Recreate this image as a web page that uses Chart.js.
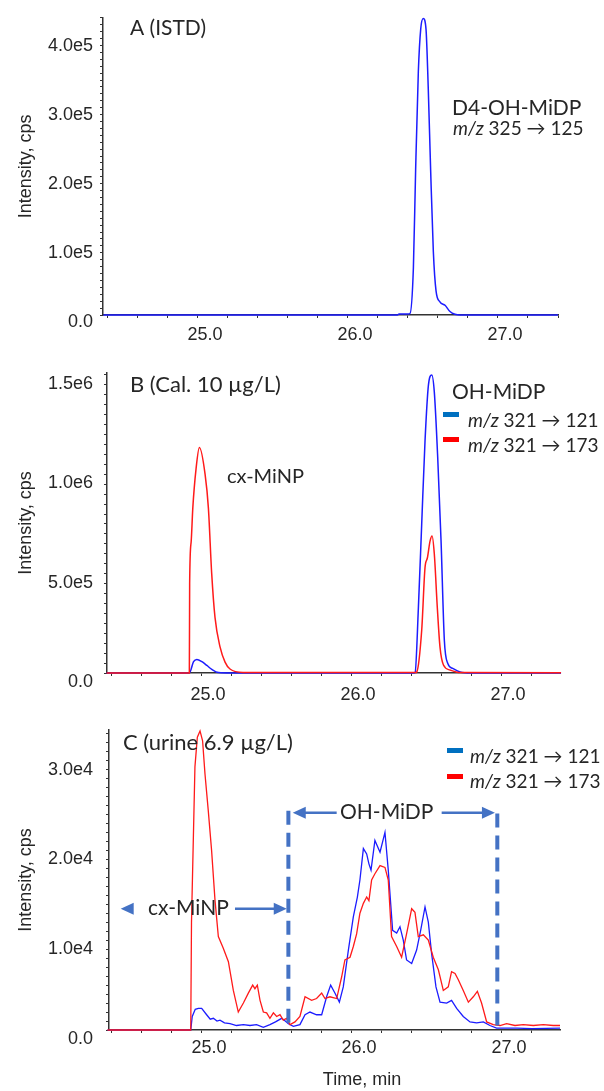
<!DOCTYPE html>
<html>
<head>
<meta charset="utf-8">
<script src="https://cdn.jsdelivr.net/npm/chart.js@4.4.0/dist/chart.umd.min.js"></script>
<style>
  body { margin: 0; background: #fff; width: 604px; height: 1091px; position: relative; overflow: hidden; }
  canvas { position: absolute; left: 0; }
</style>
</head>
<body>
<canvas id="chartA" width="604" height="345" style="top:0px"></canvas>
<canvas id="chartB" width="604" height="360" style="top:345px"></canvas>
<canvas id="chartC" width="604" height="386" style="top:705px"></canvas>
<script>
// ---- Panel A: ISTD, m/z 325 -> 125 ----
const timeA = [24.37, 26.33, 26.34, 26.40, 26.413, 26.436, 26.451, 26.469, 26.485, 26.502, 26.52, 26.535, 26.551, 26.569, 26.587, 26.613, 26.647, 26.68, 26.713, 26.75, 27.4];
const blueA = [0, 0, 1500, 1500, 2000, 68000, 210000, 352000, 414000, 429000, 414000, 329000, 210000, 92000, 35000, 19000, 14000, 5000, 1000, 0, 0];

// ---- Panel B: calibration 10 ug/L ----
const timeBBlue = [24.37, 24.922, 24.95, 24.972, 25.006, 25.039, 25.072, 25.116, 25.2, 26.42, 26.427, 26.449, 26.471, 26.493, 26.516, 26.538, 26.555, 26.578, 26.6, 26.622, 26.645, 26.678, 26.727, 26.8, 27.4];
const blueB = [0, 0, 57000, 68000, 57000, 38000, 18000, 2000, 0, 0, 2000, 330000, 750000, 1165000, 1450000, 1500000, 1415000, 1080000, 665000, 165000, 48000, 23000, 5000, 0, 0];
const timeBRed = [24.37, 24.922, 24.924, 24.934, 24.945, 24.967, 24.989, 25.027, 25.049, 25.071, 25.093, 25.127, 25.16, 25.193, 25.28, 26.43, 26.438, 26.471, 26.493, 26.509, 26.527, 26.54, 26.555, 26.575, 26.593, 26.616, 26.66, 26.727, 27.4];
const redB = [0, 0, 450000, 660000, 830000, 1030000, 1135000, 1000000, 830000, 500000, 280000, 130000, 55000, 20000, 3000, 2000, 5000, 215000, 530000, 580000, 665000, 690000, 600000, 330000, 130000, 40000, 15000, 2000, 1000];

// ---- Panel C: urine 6.9 ug/L ----
const timeCRed = [24.37, 24.925, 24.93, 24.938, 24.953, 24.969, 24.987, 25.004, 25.02, 25.042, 25.064, 25.087, 25.109, 25.142, 25.176, 25.209, 25.242, 25.276, 25.309, 25.338, 25.353, 25.369, 25.387, 25.409, 25.431, 25.453, 25.476, 25.498, 25.52, 25.542, 25.564, 25.587, 25.62, 25.653, 25.687, 25.731, 25.764, 25.798, 25.82, 25.853, 25.898, 25.931, 25.953, 25.987, 26.009, 26.031, 26.053, 26.076, 26.098, 26.113, 26.131, 26.153, 26.187, 26.22, 26.242, 26.264, 26.298, 26.331, 26.364, 26.398, 26.42, 26.442, 26.476, 26.509, 26.542, 26.576, 26.609, 26.642, 26.664, 26.687, 26.709, 26.742, 26.776, 26.809, 26.836, 26.864, 26.898, 26.942, 26.987, 27.031, 27.087, 27.142, 27.209, 27.276, 27.342, 27.387];
const redC = [0, 0, 12000, 18100, 29300, 32600, 33300, 32200, 28500, 24400, 20000, 14400, 10400, 9100, 7600, 4400, 2000, 3000, 4100, 5000, 4600, 5000, 3300, 2000, 1900, 1300, 1900, 1500, 1700, 1100, 1300, 600, 900, 1500, 3700, 3300, 3500, 4100, 3500, 3700, 3500, 5900, 7800, 8100, 9300, 10700, 13000, 14100, 14800, 14400, 16700, 17400, 18300, 18100, 16700, 10400, 9300, 8100, 10700, 13500, 13100, 10400, 10600, 10000, 8100, 6700, 4400, 4800, 6500, 6300, 5600, 4400, 3100, 3700, 4300, 3000, 900, 600, 500, 700, 500, 600, 500, 600, 500, 500];
const timeCBlue = [24.37, 24.925, 24.935, 24.955, 24.976, 24.998, 25.031, 25.055, 25.076, 25.1, 25.12, 25.15, 25.187, 25.23, 25.276, 25.32, 25.364, 25.409, 25.453, 25.49, 25.531, 25.555, 25.576, 25.609, 25.653, 25.687, 25.72, 25.764, 25.798, 25.831, 25.858, 25.887, 25.916, 25.942, 25.976, 26.009, 26.036, 26.053, 26.076, 26.098, 26.113, 26.127, 26.153, 26.187, 26.22, 26.242, 26.271, 26.298, 26.32, 26.342, 26.364, 26.398, 26.431, 26.458, 26.487, 26.509, 26.531, 26.56, 26.587, 26.631, 26.664, 26.698, 26.742, 26.787, 26.831, 26.876, 26.92, 26.964, 27.1, 27.2, 27.387];
const blueC = [0, 0, 1500, 2300, 2400, 2400, 1700, 1200, 1300, 1000, 1100, 800, 700, 500, 600, 500, 600, 300, 600, 900, 1300, 1000, 700, 400, 600, 1700, 2000, 1700, 1700, 3700, 5000, 4100, 3100, 4800, 8900, 12600, 14800, 16700, 20200, 19600, 18500, 17800, 21100, 19800, 22000, 17800, 11100, 10800, 11500, 10000, 7800, 7400, 8900, 11100, 13700, 12000, 8500, 4800, 3100, 3000, 3300, 2400, 1500, 900, 800, 900, 500, 200, 200, 150, 200];

// ---- Tick labels ----
const xMajorTicks = [25, 26, 27];
const xTickLabels = ['25.0', '26.0', '27.0'];
const yMajorA = [0, 1e5, 2e5, 3e5, 4e5];
const yLabelsA = ['0.0', '1.0e5', '2.0e5', '3.0e5', '4.0e5'];
const yMajorB = [0, 5e5, 1e6, 1.5e6];
const yLabelsB = ['0.0', '5.0e5', '1.0e6', '1.5e6'];
const yMajorC = [0, 1e4, 2e4, 3e4];
const yLabelsC = ['0.0', '1.0e4', '2.0e4', '3.0e4'];

// ---- Bracket annotations in panel C (time, intensity) ----
const cxArrow = { tipLeft: 24.458, lineFrom: 25.22, tipRight: 25.565, level: 13500 };
const ohArrow = { tipLeft: 25.605, lineTo: 25.898, lineFrom: 26.598, tipRight: 26.953, level: 24200 };
const windowLines = [{ t: 25.576, top: 24400 }, { t: 26.969, top: 24100 }];

const AXIS_FONT = '"Liberation Sans", Arial, sans-serif';
const NOTE_FONT = 'Lato, "Open Sans", sans-serif';
const BLUE = '#1c1cff';
const RED = '#ff1a1a';
const INK = '#262626';

function toPoints(times, values) {
    return times.map((t, i) => ({ x: t, y: values[i] }));
}

function labelFor(value, majors, labels, tol) {
    for (let i = 0; i < majors.length; i++) {
        if (Math.abs(value - majors[i]) < tol) return labels[i];
    }
    return '';
}

// notes: text drawn on canvas, y = vertical centre in canvas pixels
function drawNotes(ctx, notes) {
    ctx.save();
    ctx.fillStyle = INK;
    ctx.textBaseline = 'middle';
    ctx.textAlign = 'left';
    notes.forEach(n => {
        let x = n.x;
        n.parts.forEach(p => {
            ctx.font = (p.italic ? 'italic ' : '') + n.size + 'px ' + NOTE_FONT;
            ctx.fillText(p.s, x, n.y);
            x += ctx.measureText(p.s).width;
        });
    });
    ctx.restore();
}

function drawSwatches(ctx, swatches) {
    swatches.forEach(s => {
        ctx.fillStyle = s.color;
        ctx.fillRect(s.x, s.y, 16, 5);
    });
}

function arrowHead(ctx, x, y, dir) {
    ctx.beginPath();
    ctx.moveTo(x, y);
    ctx.lineTo(x - dir * 13, y - 6);
    ctx.lineTo(x - dir * 13, y + 6);
    ctx.closePath();
    ctx.fill();
}

function buildPanel(id, p) {
    const xTicks = [];
    for (let i = 0; i <= 20; i++) {
        const v = 24.4 + i * 0.2;
        if (v <= p.xMax) xTicks.push(+v.toFixed(2));
    }
    const yTicks = [];
    for (let i = 0; i * p.yStep <= p.yMax + 1e-6; i++) yTicks.push(i * p.yStep);

    const notesPlugin = {
        id: 'notes' + id,
        afterDatasetsDraw(chart) {
            const ctx = chart.ctx;
            if (p.extra) p.extra(chart);
            drawSwatches(ctx, p.swatches || []);
            drawNotes(ctx, p.notes);
        }
    };

    return new Chart(document.getElementById(id), {
        type: 'line',
        data: { datasets: p.datasets },
        options: {
            responsive: false,
            animation: false,
            events: [],
            layout: { padding: { left: 0, right: 604 - p.right, top: p.top, bottom: 0 } },
            plugins: { legend: { display: false }, tooltip: { enabled: false } },
            elements: { point: { radius: 0 }, line: { borderWidth: 1.5 } },
            scales: {
                x: {
                    type: 'linear',
                    min: p.xMin,
                    max: p.xMax,
                    afterFit: s => { s.height = p.canvasH - p.bottom; },
                    afterBuildTicks: s => { s.ticks = xTicks.map(v => ({ value: v })); },
                    ticks: {
                        autoSkip: false,
                        maxRotation: 0,
                        padding: p.xPad,
                        labelOffset: 7,
                        color: INK,
                        font: { family: AXIS_FONT, size: 18 },
                        callback: v => labelFor(v, xMajorTicks, xTickLabels, 0.01)
                    },
                    grid: { drawOnChartArea: false, tickLength: 3, color: '#333' },
                    border: { color: '#333', width: 1.5 }
                },
                y: {
                    min: 0,
                    max: p.yMax,
                    afterFit: s => { s.width = p.left; },
                    afterBuildTicks: s => { s.ticks = yTicks.map(v => ({ value: v })); },
                    ticks: {
                        autoSkip: false,
                        padding: p.yPad,
                        labelOffset: p.yLabelOffset,
                        color: INK,
                        font: { family: AXIS_FONT, size: 18 },
                        callback: v => labelFor(v, p.yMajor, p.yLabels, p.yStep / 10)
                    },
                    grid: { drawOnChartArea: false, tickLength: 3, color: '#333' },
                    border: { color: '#333', width: 1.5 },
                    title: {
                        display: true,
                        text: 'Intensity, cps',
                        color: INK,
                        font: { family: AXIS_FONT, size: 18 },
                        padding: { top: 15, bottom: 0 }
                    }
                }
            }
        },
        plugins: [notesPlugin]
    });
}

function trace(times, values, color, order) {
    return {
        data: toPoints(times, values),
        borderColor: color,
        borderWidth: 1.5,
        pointRadius: 0,
        fill: false,
        clip: false,
        order: order,
        cubicInterpolationMode: 'monotone'
    };
}

function rawTrace(times, values, color, order) {
    return {
        data: toPoints(times, values),
        borderColor: color,
        borderWidth: 1.3,
        pointRadius: 0,
        fill: false,
        clip: false,
        order: order,
        tension: 0
    };
}

buildPanel('chartA', {
    canvasH: 345, top: 12, bottom: 315, left: 103, right: 558,
    xMin: 24.367, xMax: 27.4, xPad: 6, yPad: 7, yLabelOffset: 7,
    yMax: 430000, yStep: 10000, yMajor: yMajorA, yLabels: yLabelsA,
    datasets: [trace(timeA, blueA, BLUE, 0)],
    notes: [
        { x: 130, y: 28, size: 21, parts: [{ s: 'A (ISTD)' }] },
        { x: 452, y: 108, size: 21, parts: [{ s: 'D4-OH-MiDP' }] },
        { x: 453, y: 129, size: 19, parts: [{ s: 'm/z', italic: true }, { s: ' 325 \u2192 125' }] }
    ]
});

buildPanel('chartB', {
    canvasH: 360, top: 28, bottom: 328, left: 107, right: 560,
    xMin: 24.373, xMax: 27.393, xPad: 8, yPad: 11, yLabelOffset: 9,
    yMax: 1510000, yStep: 50000, yMajor: yMajorB, yLabels: yLabelsB,
    datasets: [trace(timeBBlue, blueB, BLUE, 1), trace(timeBRed, redB, RED, 0)],
    swatches: [{ x: 443, y: 412 - 345, color: '#0070C0' }, { x: 443, y: 437 - 345, color: '#FF0000' }],
    notes: [
        { x: 130, y: 385 - 345, size: 22, parts: [{ s: 'B (Cal. 10 \u00b5g/L)' }] },
        { x: 227, y: 477 - 345, size: 20, parts: [{ s: 'cx-MiNP' }] },
        { x: 452, y: 392 - 345, size: 21, parts: [{ s: 'OH-MiDP' }] },
        { x: 468, y: 421 - 345, size: 19, parts: [{ s: 'm/z', italic: true }, { s: ' 321 \u2192 121' }] },
        { x: 468, y: 446 - 345, size: 19, parts: [{ s: 'm/z', italic: true }, { s: ' 321 \u2192 173' }] }
    ]
});

buildPanel('chartC', {
    canvasH: 386, top: 25, bottom: 325, left: 109, right: 560,
    xMin: 24.38, xMax: 27.387, xPad: 4, yPad: 13, yLabelOffset: 9,
    yMax: 33400, yStep: 1000, yMajor: yMajorC, yLabels: yLabelsC,
    datasets: [rawTrace(timeCBlue, blueC, BLUE, 1), rawTrace(timeCRed, redC, RED, 0)],
    swatches: [{ x: 447, y: 748 - 705, color: '#0070C0' }, { x: 447, y: 774 - 705, color: '#FF0000' }],
    notes: [
        { x: 123, y: 743 - 705, size: 22, parts: [{ s: 'C (urine 6.9 \u00b5g/L)' }] },
        { x: 470, y: 757 - 705, size: 19, parts: [{ s: 'm/z', italic: true }, { s: ' 321 \u2192 121' }] },
        { x: 470, y: 782 - 705, size: 19, parts: [{ s: 'm/z', italic: true }, { s: ' 321 \u2192 173' }] },
        { x: 148, y: 908 - 705, size: 21, parts: [{ s: 'cx-MiNP' }] },
        { x: 340, y: 812 - 705, size: 21, parts: [{ s: 'OH-MiDP' }] }
    ],
    extra: chart => {
        const ctx = chart.ctx;
        const xs = chart.scales.x, ys = chart.scales.y;
        ctx.save();
        ctx.strokeStyle = '#4472C4';
        ctx.fillStyle = '#4472C4';
        // dashed window limits
        ctx.lineWidth = 4;
        ctx.setLineDash([14, 8]);
        windowLines.forEach(w => {
            const x = xs.getPixelForValue(w.t);
            ctx.beginPath();
            ctx.moveTo(x, ys.getPixelForValue(w.top));
            ctx.lineTo(x, ys.getPixelForValue(0));
            ctx.stroke();
        });
        ctx.setLineDash([]);
        ctx.lineWidth = 2.5;
        // cx-MiNP bracket
        let y = ys.getPixelForValue(cxArrow.level);
        arrowHead(ctx, xs.getPixelForValue(cxArrow.tipLeft), y, -1);
        ctx.beginPath();
        ctx.moveTo(xs.getPixelForValue(cxArrow.lineFrom), y);
        ctx.lineTo(xs.getPixelForValue(cxArrow.tipRight) - 10, y);
        ctx.stroke();
        arrowHead(ctx, xs.getPixelForValue(cxArrow.tipRight), y, 1);
        // OH-MiDP bracket
        y = ys.getPixelForValue(ohArrow.level);
        ctx.beginPath();
        ctx.moveTo(xs.getPixelForValue(ohArrow.tipLeft) + 10, y);
        ctx.lineTo(xs.getPixelForValue(ohArrow.lineTo), y);
        ctx.moveTo(xs.getPixelForValue(ohArrow.lineFrom), y);
        ctx.lineTo(xs.getPixelForValue(ohArrow.tipRight) - 10, y);
        ctx.stroke();
        arrowHead(ctx, xs.getPixelForValue(ohArrow.tipLeft), y, -1);
        arrowHead(ctx, xs.getPixelForValue(ohArrow.tipRight), y, 1);
        ctx.restore();
        // x axis title
        ctx.save();
        ctx.fillStyle = INK;
        ctx.font = '18px ' + AXIS_FONT;
        ctx.textAlign = 'center';
        ctx.textBaseline = 'middle';
        ctx.fillText('Time, min', 362, 1080 - 705);
        ctx.restore();
    }
});
</script>
</body>
</html>
